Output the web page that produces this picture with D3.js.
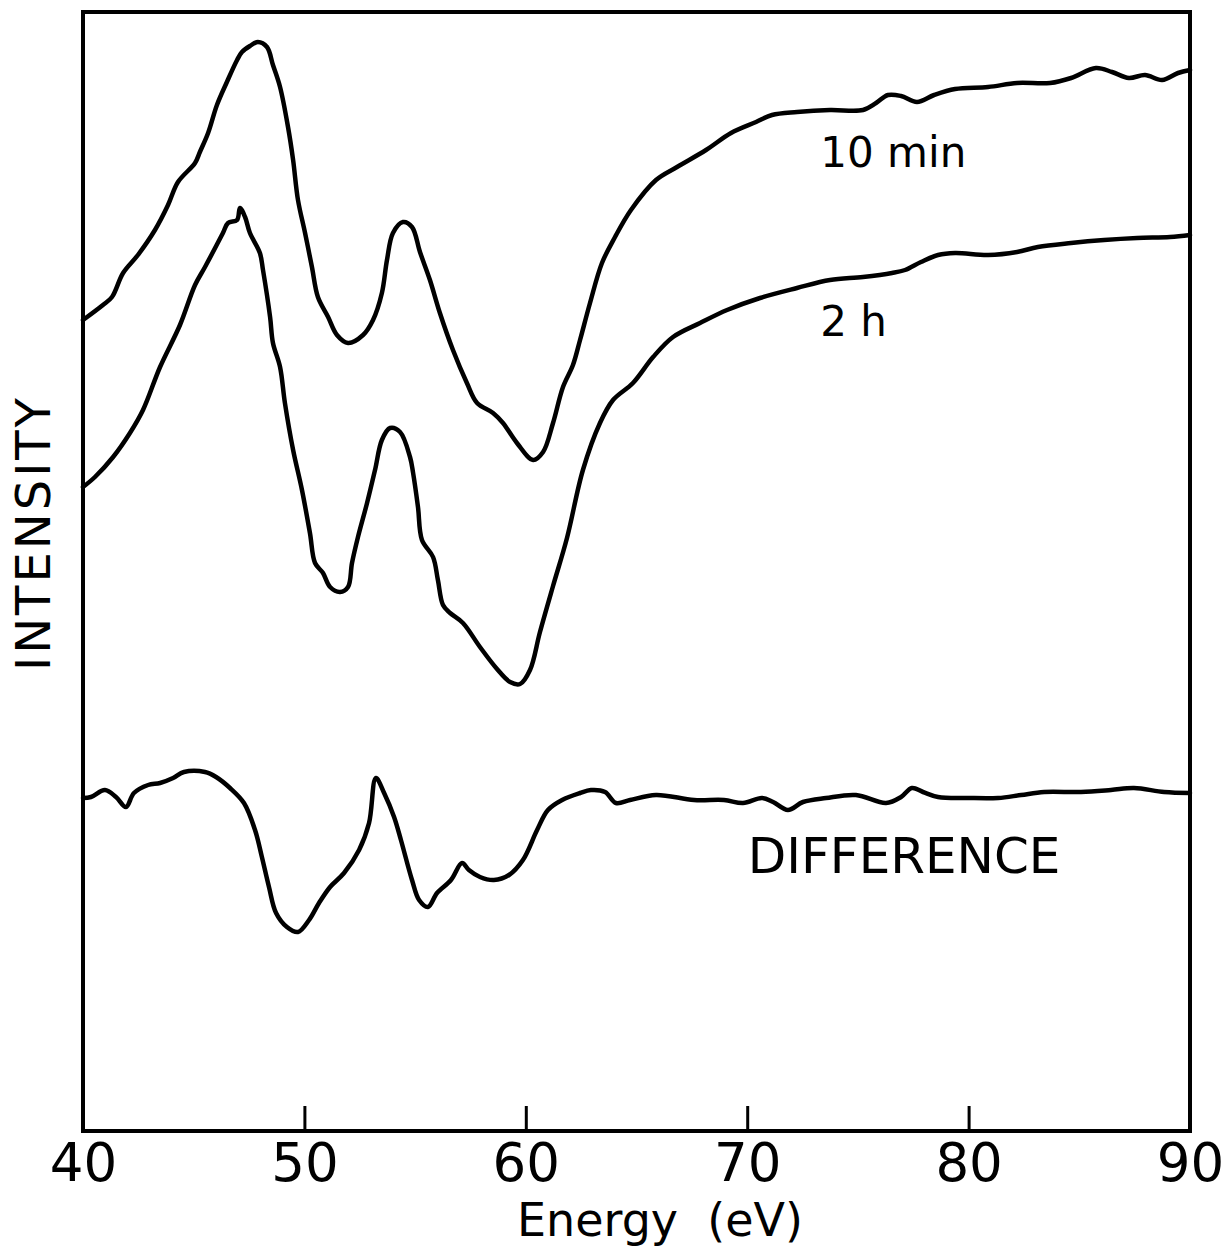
<!DOCTYPE html>
<html>
<head>
<meta charset="utf-8">
<script src="https://cdn.jsdelivr.net/npm/d3@7"></script>
<style>
  body { margin:0; background:#fff; }
  text { font-family: "DejaVu Sans", sans-serif; fill:#000; }
</style>
</head>
<body>
<div id="chart"></div>
<script>
// energy (eV) and intensity (arbitrary units)
var energy10 = [40.00,40.90,41.31,41.81,42.48,43.25,43.84,44.29,45.06,45.28,45.65,46.05,46.50,46.96,47.18,47.54,47.90,48.31,48.58,48.90,49.26,49.49,49.71,50.03,50.34,50.61,51.07,51.47,51.97,52.65,53.10,53.50,53.73,54.00,54.45,54.86,55.22,55.67,56.12,56.71,57.34,57.80,58.52,58.97,59.60,60.33,60.78,61.23,61.68,62.13,62.45,62.90,63.44,64.03,64.75,65.88,66.83,68.14,69.27,70.40,71.12,72.25,73.74,75.23,75.82,76.36,76.95,77.67,78.44,79.39,80.88,82.19,83.68,84.63,85.75,86.48,87.24,87.97,88.74,89.46,90.00];
var int10 = [811,826,834,858,876,901,926,949,968,979,998,1026,1049,1071,1079,1085,1089,1084,1066,1044,1004,971,931,898,864,834,814,796,788,796,811,838,871,898,909,904,879,851,818,781,748,728,718,708,688,671,679,708,744,766,791,828,868,894,921,951,964,981,998,1009,1016,1019,1021,1021,1028,1036,1035,1029,1036,1042,1044,1048,1048,1053,1063,1059,1053,1056,1051,1058,1061];

var energy2h = [40.00,40.54,41.36,42.12,42.71,43.48,44.38,45.06,45.51,46.32,46.55,46.96,47.09,47.32,47.54,47.99,48.13,48.45,48.58,48.90,49.12,49.49,49.89,50.25,50.48,50.84,51.16,51.61,51.97,52.15,52.42,52.83,53.19,53.50,53.87,54.32,54.77,54.91,55.13,55.31,55.81,56.03,56.26,56.58,57.16,57.93,58.70,59.29,59.74,60.19,60.64,61.23,61.86,62.58,63.35,63.94,64.84,65.75,66.65,67.87,69.09,70.58,72.25,73.74,75.23,76.54,77.13,77.85,78.62,79.39,80.88,82.19,83.13,84.63,86.12,87.61,89.10,90.00];
var int2h = [644,654,674,698,721,764,806,846,864,898,908,911,923,914,898,878,861,814,788,764,728,681,641,598,568,558,544,539,544,568,594,628,661,691,703,699,674,658,624,591,574,551,526,518,508,484,462,449,447,461,499,545,593,661,708,731,748,774,794,808,821,833,843,851,854,858,861,869,876,878,876,879,884,888,891,893,894,896];

var energyDiff = [40.00,40.36,40.99,41.49,41.94,42.30,42.94,43.48,44.07,44.56,45.51,46.01,46.64,47.27,47.77,48.08,48.40,48.72,49.21,49.71,50.21,50.66,51.16,51.79,52.47,52.92,53.23,53.60,54.05,54.36,54.86,55.18,55.58,55.99,56.62,57.12,57.43,57.93,58.56,59.24,59.87,60.51,61.00,61.64,62.45,62.94,63.58,64.07,64.71,65.88,67.60,68.95,69.81,70.67,71.17,71.84,72.52,73.56,74.91,76.27,76.95,77.44,77.94,78.62,79.97,81.33,82.37,83.41,85.08,86.43,87.47,88.83,90.00];
var intDiff = [333,334,341,334,324,338,346,348,353,359,359,354,343,328,301,274,244,218,204,199,211,228,244,258,281,308,353,338,314,291,251,231,224,238,251,268,261,254,251,256,271,301,321,331,338,341,339,328,331,336,331,331,328,333,329,321,329,333,336,328,334,343,339,334,333,333,336,339,339,341,343,339,338];

var xTicks = [40,50,60,70,80,90];

var labels = [
  {text:'10 min', e:73.3, v:964, size:42},
  {text:'2 h', e:73.3, v:795, size:42},
  {text:'DIFFERENCE', e:70.03, v:258, size:50}
];

var W = 1229, H = 1246;
var margin = {t:12, r:39, b:115, l:83};
var width = W - margin.l - margin.r,
    height = H - margin.t - margin.b;

var svg = d3.select('#chart').append('svg')
    .attr('width', W)
    .attr('height', H);

var plot = svg.append('g')
    .attr('transform','translate('+margin.l+','+margin.t+')');

var x = d3.scaleLinear().domain([40,90]).range([0,width]);
var y = d3.scaleLinear().domain([0,height]).range([height,0]);

// ticks + labels
var xAxis = d3.axisBottom(x)
    .tickValues(xTicks)
    .tickSizeInner(-25)
    .tickSizeOuter(0)
    .tickPadding(12)
    .tickFormat(d3.format('d'));

var gx = plot.append('g')
    .attr('transform','translate(0,'+height+')')
    .call(xAxis);
gx.select('.domain').remove();
gx.selectAll('line').attr('stroke','#000').attr('stroke-width',3);
gx.selectAll('text')
    .style('font-family','"DejaVu Sans", sans-serif')
    .style('font-size','53px')
    .attr('fill','#000');

// frame
plot.append('rect')
    .attr('x',0).attr('y',0)
    .attr('width',width).attr('height',height)
    .attr('fill','none')
    .attr('stroke','#000')
    .attr('stroke-width',4);

var line = d3.line()
    .x(function(d){ return x(d[0]); })
    .y(function(d){ return y(d[1]); })
    .curve(d3.curveCatmullRom.alpha(0.5));

var series = [
  d3.zip(energy10, int10),
  d3.zip(energy2h, int2h),
  d3.zip(energyDiff, intDiff)
];

plot.selectAll('path.curve')
    .data(series)
    .enter().append('path')
    .attr('class','curve')
    .attr('d', line)
    .attr('fill','none')
    .attr('stroke','#000')
    .attr('stroke-width',4.5)
    .attr('stroke-linejoin','round')
    .attr('stroke-linecap','round');

plot.selectAll('text.lbl')
    .data(labels)
    .enter().append('text')
    .attr('class','lbl')
    .attr('x', function(d){ return x(d.e); })
    .attr('y', function(d){ return y(d.v); })
    .style('font-size', function(d){ return d.size+'px'; })
    .text(function(d){ return d.text; });

// axis titles
svg.append('text')
    .attr('x', 660)
    .attr('y', 1236)
    .attr('text-anchor','middle')
    .style('font-size','46px')
    .style('white-space','pre')
    .text('Energy  (eV)');

svg.append('text')
    .attr('transform','translate(50,533) rotate(-90)')
    .attr('text-anchor','middle')
    .style('font-size','48px')
    .style('letter-spacing','3px')
    .text('INTENSITY');
</script>
</body>
</html>
